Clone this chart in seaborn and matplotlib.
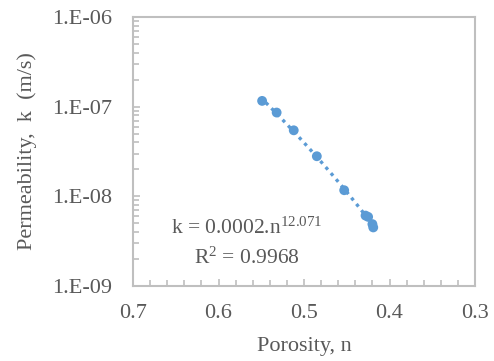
import numpy as np
import pandas as pd
import matplotlib
matplotlib.use("Agg")
import matplotlib.pyplot as plt
import seaborn as sns
from matplotlib.ticker import LogLocator, MultipleLocator, FixedLocator, FixedFormatter, NullFormatter

porosity = [0.549, 0.532, 0.512, 0.485, 0.453, 0.428, 0.425, 0.420, 0.419]
permeability = [1.16e-7, 8.6e-8, 5.45e-8, 2.8e-8, 1.17e-8, 6.1e-9, 5.9e-9, 4.9e-9, 4.5e-9]
equation_text = "k = 0.0002.n$^{12.071}$"
r2_text = "R$^2$ = 0.9968"
x_ticks = [0.7, 0.6, 0.5, 0.4, 0.3]
y_ticks = [1e-9, 1e-8, 1e-7, 1e-6]
y_tick_labels = ["1.E-09", "1.E-08", "1.E-07", "1.E-06"]

sns.set_theme(style="white")
plt.rcParams['font.family'] = ['Liberation Serif', 'DejaVu Serif']
plt.rcParams['mathtext.fontset'] = 'custom'
plt.rcParams['mathtext.rm'] = 'Liberation Serif'
plt.rcParams['mathtext.it'] = 'Liberation Serif'

blue = "#5B9BD5"
gray = "#595959"
frame = "#BFBFBF"

df = pd.DataFrame({"n": porosity, "k": permeability})

fig = plt.figure(figsize=(4.94, 3.61), dpi=100)
ax = fig.add_axes([133/494, 1-286/361, (475-133)/494, (286-17)/361])

# power-law trendline fitted to the data
b, loga = np.polyfit(np.log(df["n"]), np.log(df["k"]), 1)
xs = np.linspace(df["n"].min(), df["n"].max(), 50)
trend = pd.DataFrame({"n": xs, "k": np.exp(loga) * xs ** b})
sns.lineplot(data=trend, x="n", y="k", ax=ax, color=blue, linestyle=(0, (1, 1.4)), linewidth=2.4)
sns.scatterplot(data=df, x="n", y="k", ax=ax, color=blue, s=50, edgecolor="none", zorder=3)

ax.set_yscale("log")
ax.set_xlim(0.7, 0.3)
ax.set_ylim(1e-9, 1e-6)

ax.xaxis.set_major_locator(FixedLocator(x_ticks))
ax.set_xticklabels([f"{v:.1f}" for v in x_ticks])
ax.xaxis.set_minor_locator(MultipleLocator(0.02))
ax.yaxis.set_major_locator(FixedLocator(y_ticks))
ax.yaxis.set_major_formatter(FixedFormatter(y_tick_labels))
ax.yaxis.set_minor_locator(LogLocator(base=10, subs=np.arange(2, 10)))
ax.yaxis.set_minor_formatter(NullFormatter())

ax.tick_params(axis="both", which="both", direction="in", color=frame, width=1.2,
               labelcolor=gray, labelsize=16, top=False, right=False, bottom=True, left=True)
ax.tick_params(axis="both", which="major", length=5)
ax.tick_params(axis="both", which="minor", length=4.5)
ax.tick_params(axis="x", pad=13)
ax.tick_params(axis="y", pad=15)

for s in ax.spines.values():
    s.set_color(frame)
    s.set_linewidth(1.5)

ax.set_xlabel("Porosity, n", fontsize=16, color=gray, labelpad=10)
ax.set_ylabel("Permeability,  k  (m/s)", fontsize=16, color=gray, labelpad=11)

ax.text(0.332, (286-234)/269, equation_text, transform=ax.transAxes, ha="center", va="baseline",
        fontsize=15.5, color=gray)
ax.text(0.332, (286-264)/269, r2_text, transform=ax.transAxes, ha="center", va="baseline",
        fontsize=15.5, color=gray)

fig.savefig("out.png", dpi=100)
